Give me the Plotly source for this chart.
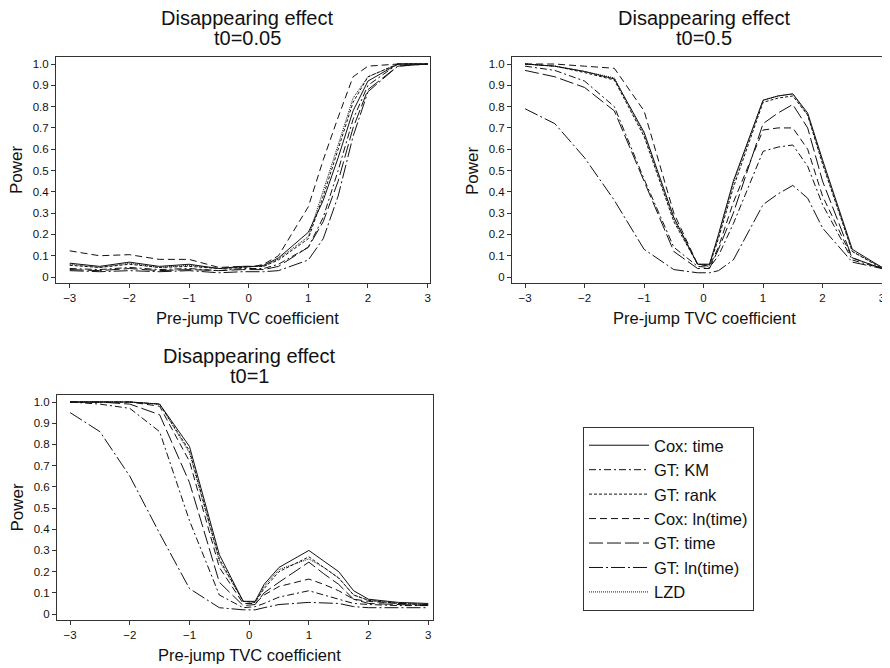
import plotly.graph_objects as go

# common grid of pre-jump TVC coefficients
x_vals = [-3, -2.5, -2, -1.5, -1, -0.5, -0.1, 0.1, 0.25, 0.5, 1, 1.25, 1.5, 1.75, 2, 2.5, 3]

series_names = ["Cox: time", "GT: KM", "GT: rank", "Cox: ln(time)", "GT: time", "GT: ln(time)", "LZD"]
series_dash = ["solid", "7px,3px,2px,3px", "3px,2px", "7px,4px", "14px,4px", "14px,3px,2px,3px", "1px,1px"]

# t0 = 0.05
p1_cox_time = [0.065, 0.05, 0.07, 0.05, 0.06, 0.04, 0.05, 0.05, 0.055, 0.09, 0.21, 0.36, 0.56, 0.78, 0.92, 1.0, 1.0]
p1_gt_km = [0.04, 0.035, 0.045, 0.035, 0.04, 0.03, 0.04, 0.04, 0.04, 0.06, 0.14, 0.28, 0.50, 0.74, 0.90, 1.0, 1.0]
p1_gt_rank = [0.055, 0.045, 0.06, 0.045, 0.05, 0.04, 0.045, 0.05, 0.05, 0.08, 0.18, 0.38, 0.60, 0.82, 0.94, 1.0, 1.0]
p1_cox_ln = [0.123, 0.10, 0.105, 0.083, 0.083, 0.045, 0.05, 0.05, 0.06, 0.10, 0.33, 0.55, 0.75, 0.94, 0.99, 1.0, 1.0]
p1_gt_time = [0.035, 0.03, 0.04, 0.03, 0.035, 0.03, 0.035, 0.035, 0.035, 0.05, 0.14, 0.26, 0.45, 0.70, 0.88, 0.99, 1.0]
p1_gt_ln = [0.03, 0.025, 0.03, 0.025, 0.03, 0.02, 0.025, 0.025, 0.025, 0.03, 0.08, 0.18, 0.38, 0.66, 0.87, 0.99, 1.0]
p1_lzd = [0.06, 0.045, 0.065, 0.045, 0.055, 0.04, 0.045, 0.05, 0.05, 0.085, 0.19, 0.40, 0.62, 0.84, 0.94, 1.0, 1.0]

# t0 = 0.5
p2_cox_time = [1.0, 0.99, 0.965, 0.93, 0.68, 0.28, 0.06, 0.06, 0.20, 0.45, 0.83, 0.85, 0.86, 0.77, 0.55, 0.13, 0.045]
p2_gt_km = [0.99, 0.97, 0.92, 0.80, 0.46, 0.14, 0.05, 0.045, 0.10, 0.25, 0.59, 0.61, 0.62, 0.52, 0.34, 0.08, 0.04]
p2_gt_rank = [1.0, 0.99, 0.96, 0.925, 0.66, 0.26, 0.06, 0.055, 0.18, 0.42, 0.82, 0.84, 0.85, 0.76, 0.53, 0.12, 0.04]
p2_cox_ln = [1.0, 1.0, 0.99, 0.98, 0.78, 0.30, 0.06, 0.05, 0.14, 0.35, 0.69, 0.70, 0.70, 0.60, 0.38, 0.09, 0.04]
p2_gt_time = [0.97, 0.94, 0.89, 0.78, 0.45, 0.12, 0.04, 0.04, 0.13, 0.30, 0.72, 0.77, 0.81, 0.70, 0.45, 0.09, 0.04]
p2_gt_ln = [0.79, 0.72, 0.56, 0.36, 0.13, 0.035, 0.02, 0.02, 0.03, 0.08, 0.34, 0.39, 0.43, 0.37, 0.23, 0.07, 0.04]
p2_lzd = [1.0, 0.99, 0.965, 0.935, 0.67, 0.27, 0.06, 0.06, 0.19, 0.44, 0.83, 0.85, 0.86, 0.76, 0.54, 0.12, 0.045]

# t0 = 1
p3_cox_time = [1.0, 1.0, 1.0, 0.99, 0.79, 0.28, 0.06, 0.06, 0.14, 0.22, 0.30, 0.25, 0.20, 0.11, 0.07, 0.055, 0.05]
p3_gt_km = [1.0, 0.99, 0.97, 0.86, 0.44, 0.09, 0.03, 0.035, 0.05, 0.08, 0.11, 0.09, 0.07, 0.05, 0.045, 0.04, 0.04]
p3_gt_rank = [1.0, 1.0, 1.0, 0.99, 0.77, 0.26, 0.06, 0.055, 0.12, 0.20, 0.27, 0.22, 0.17, 0.09, 0.065, 0.05, 0.045]
p3_cox_ln = [1.0, 1.0, 1.0, 0.98, 0.72, 0.22, 0.05, 0.05, 0.09, 0.13, 0.165, 0.14, 0.11, 0.07, 0.06, 0.05, 0.045]
p3_gt_time = [1.0, 1.0, 0.99, 0.94, 0.62, 0.15, 0.04, 0.045, 0.10, 0.15, 0.245, 0.19, 0.14, 0.07, 0.05, 0.045, 0.04]
p3_gt_ln = [0.95, 0.86, 0.65, 0.38, 0.12, 0.03, 0.02, 0.02, 0.03, 0.045, 0.055, 0.053, 0.05, 0.035, 0.03, 0.03, 0.03]
p3_lzd = [1.0, 1.0, 1.0, 0.99, 0.76, 0.25, 0.06, 0.055, 0.13, 0.21, 0.26, 0.22, 0.17, 0.09, 0.065, 0.05, 0.045]

panels = [
    ([p1_cox_time, p1_gt_km, p1_gt_rank, p1_cox_ln, p1_gt_time, p1_gt_ln, p1_lzd], "x", "y", "t0=0.05"),
    ([p2_cox_time, p2_gt_km, p2_gt_rank, p2_cox_ln, p2_gt_time, p2_gt_ln, p2_lzd], "x2", "y2", "t0=0.5"),
    ([p3_cox_time, p3_gt_km, p3_gt_rank, p3_cox_ln, p3_gt_time, p3_gt_ln, p3_lzd], "x3", "y3", "t0=1"),
]

# the page body adds an 8px margin, so the figure is laid out in page pixels minus 8
OFF = 8
W, H = 890 - OFF, 668 - OFF
FONT = "Liberation Sans, Arial, sans-serif"
INK = "#111111"

fig = go.Figure()
for k, (ys, xa, ya, _) in enumerate(panels):
    for i, y in enumerate(ys):
        fig.add_trace(go.Scatter(
            x=x_vals, y=y, mode="lines", xaxis=xa, yaxis=ya,
            name=series_names[i], showlegend=(k == 0),
            line=dict(color=INK, width=1, dash=series_dash[i]),
        ))

# frame boxes in page pixels: left, right, top, bottom
boxes = [(56, 430, 57, 283), (512, 888, 57, 283), (57, 433, 395, 620)]
xranges = [[-3.23, 3.04], [-3.22, 3.1], [-3.22, 3.08]]


def fx(px):
    return (px - OFF) / W


def fy(py):
    return 1 - (py - OFF) / H


def ax_common():
    return dict(showline=True, mirror=True, linecolor="#333333", linewidth=1,
                ticks="outside", ticklen=4, tickcolor="#333333", showgrid=False,
                zeroline=False, ticklabeloverflow="allow",
                tickfont=dict(family=FONT, size=11.5, color=INK))


def note(text, px, py, size, angle=0):
    return dict(text=text, x=fx(px), y=fy(py), xref="paper", yref="paper",
                showarrow=False, xanchor="center", yanchor="middle", textangle=angle,
                font=dict(family=FONT, size=size, color=INK))


layout = dict(width=W, height=H, margin=dict(l=0, r=0, t=0, b=0),
              plot_bgcolor="white", paper_bgcolor="white", showlegend=True)
annotations = []
for k, (l, r, t, b) in enumerate(boxes):
    suf = "" if k == 0 else str(k + 1)
    xa = ax_common()
    xa.update(domain=[fx(l), min(fx(r), 1)], range=xranges[k], tickvals=[-3, -2, -1, 0, 1, 2, 3],
              anchor="y" + suf)
    ya = ax_common()
    ya.update(domain=[fy(b), fy(t)], range=[-0.028, 1.033],
              tickvals=[i / 10 for i in range(11)],
              ticktext=["0"] + ["%.1f" % (i / 10) for i in range(1, 11)],
              anchor="x" + suf)
    layout["xaxis" + suf] = xa
    layout["yaxis" + suf] = ya
    cx = (l + r) / 2 + 4
    annotations.append(note("Disappearing effect", cx, t - 39, 20))
    annotations.append(note(panels[k][3], cx, t - 19, 20))
    annotations.append(note("Power", l - 40, (t + b) / 2, 17, -90))
    annotations.append(note("Pre-jump TVC coefficient", cx, b + 35, 16.5))

layout["annotations"] = annotations
layout["legend"] = dict(x=fx(583), y=fy(427), xanchor="left", yanchor="top",
                        bordercolor="#333333", borderwidth=1, itemwidth=60,
                        font=dict(family=FONT, size=16.5, color=INK), tracegroupgap=0)
fig.update_layout(**layout)

fig.write_html("out.html")
